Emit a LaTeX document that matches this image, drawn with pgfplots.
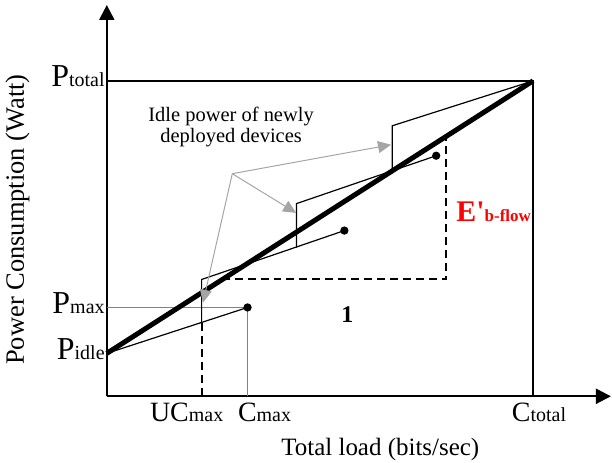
\documentclass[border=0pt]{standalone}
\usepackage{pgfplots}
\pgfplotsset{compat=1.18}
\usepackage{fontspec}
\setmainfont{Liberation Serif}
\usetikzlibrary{arrows.meta}
\newcommand\bl[1]{{\fontsize{28}{28}\selectfont #1}}
\newcommand\bP[1]{{\fontsize{32}{32}\selectfont #1}}
\newcommand\sml[1]{{\fontsize{20}{20}\selectfont #1}}
\definecolor{arrgray}{RGB}{165,165,165}
\definecolor{lgray}{RGB}{130,130,130}
\begin{document}
\begin{tikzpicture}
\begin{axis}[
  x=1pt, y=1pt,
  xmin=0, xmax=505, ymin=0, ymax=392,
  axis lines=left,
  axis line style={line width=2.2pt, -{Triangle[length=15pt,width=15pt]}},
  clip=false,
  xtick={95,141,427},
  xticklabels={\hspace*{-30pt}\bl{UC}\sml{max}, \hspace*{34pt}\bl{C}\sml{max}, \hspace*{12pt}\bl{C}\sml{total}},
  xticklabel style={anchor=base, inner sep=0pt, yshift=-25pt},
  ytick={43,89,316},
  yticklabels={\bP{P}\sml{idle}, \bP{P}\sml{max}, \bP{P}\sml{total}},
  yticklabel style={anchor=base east, inner sep=0pt, xshift=-2pt, yshift=-6pt},
  major tick length=0pt,
]
% bounding box
\path (axis cs:-107,-66) rectangle (axis cs:505,397);
% frame at total capacity
\addplot[black, line width=2pt] coordinates {(0,316) (427,316) (427,0)};
% Pmax / Cmax guide lines
\addplot[lgray, line width=1.2pt] coordinates {(0,89) (141,89) (141,0)};
% device 1
\addplot[black, line width=1.2pt, mark=*, mark size=3.5pt, mark indices={2}] coordinates {(0,43) (141,89)};
% UCmax dashed
\addplot[black, line width=2pt, dash pattern=on 8pt off 5pt] coordinates {(95,0) (95,74)};
% device 2
\addplot[black, line width=1.2pt, mark=*, mark size=3.5pt, mark indices={3}] coordinates {(95,74) (95,117) (238,166)};
% device 3
\addplot[black, line width=1.2pt, mark=*, mark size=3.5pt, mark indices={3}] coordinates {(190,149) (190,193) (330,241)};
% device 4
\addplot[black, line width=1.2pt] coordinates {(286,227) (286,271) (427,316)};
% dashed slope triangle
\addplot[black, line width=2pt, dash pattern=on 8pt off 5pt] coordinates {(115,117) (340,117) (340,260)};
% thick overall line
\addplot[black, line width=5pt] coordinates {(0,43) (427,316)};
% gray annotation arrows
\addplot[arrgray, line width=1pt, -{Triangle[length=13pt,width=12pt]}] coordinates {(125.7,223) (284.7,252)};
\addplot[arrgray, line width=1pt, -{Triangle[length=13pt,width=12pt]}] coordinates {(125.7,223) (189.7,183.7)};
\addplot[arrgray, line width=1pt, -{Triangle[length=13pt,width=12pt]}] coordinates {(125.7,223) (96.3,93.7)};
% texts
\node[anchor=base, font=\fontsize{20.5}{20.5}\selectfont] at (axis cs:124.5,275.3) {Idle power of newly};
\node[anchor=base, font=\fontsize{20.5}{20.5}\selectfont] at (axis cs:124.5,254) {deployed devices};
\node[font=\fontsize{24}{24}\selectfont\bfseries] at (axis cs:241,82) {1};
\node[anchor=base west, inner sep=0pt, text=red] at (axis cs:350,175) {{\fontsize{30}{30}\selectfont\bfseries E\textquotesingle}{\fontsize{17}{17}\selectfont\bfseries b-flow}};
\node[anchor=base, inner sep=0pt, font=\fontsize{25}{25}\selectfont] at (axis cs:274,-59) {Total load (bits/sec)};
\node[anchor=base, inner sep=0pt, rotate=90, font=\fontsize{26.5}{26.5}\selectfont] at (axis cs:-83,177) {Power Consumption (Watt)};
\end{axis}
\end{tikzpicture}
\end{document}
